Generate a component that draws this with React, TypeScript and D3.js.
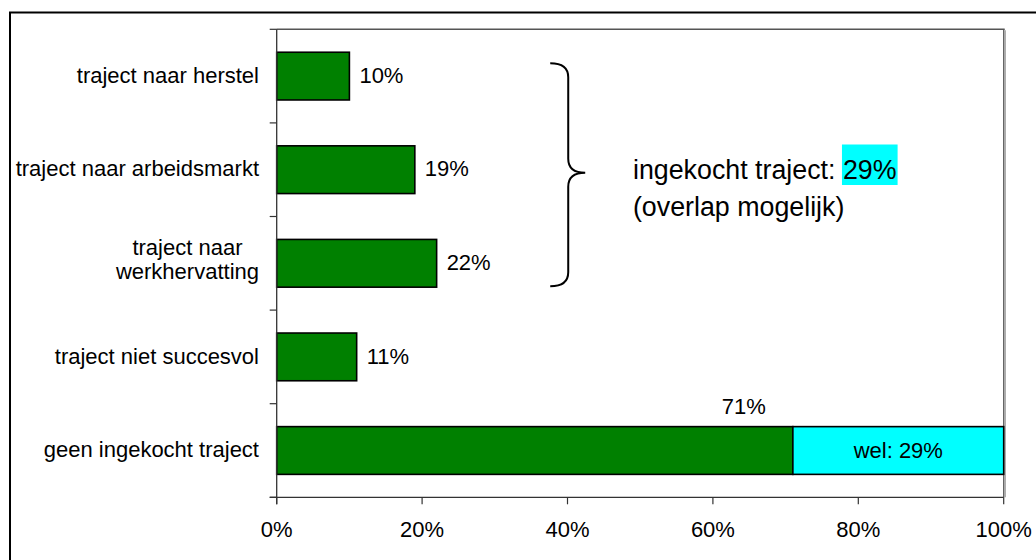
import React, { useEffect, useRef } from "react";
import * as d3 from "d3";

const categories = [
  "traject naar herstel",
  "traject naar arbeidsmarkt",
  "traject naar\nwerkhervatting",
  "traject niet succesvol",
  "geen ingekocht traject",
];
const greenValues = [10, 19, 22, 11, 71];
const cyanValues = [0, 0, 0, 0, 29];
const cyanPrefix = "wel: ";
const xTicks = [0, 20, 40, 60, 80, 100];
const annotationLine1 = "ingekocht traject: ";
const annotationHighlight = "29%";
const annotationLine2 = "(overlap mogelijk)";

const W = 1036;
const H = 560;
const FONT = "'Liberation Sans', Arial, sans-serif";
const GREEN = "#008000";
const CYAN = "#00FFFF";
const FS = 22;
const AFS = 26.8;

export default function App() {
  const ref = useRef<SVGSVGElement | null>(null);

  useEffect(() => {
    const svg = d3.select(ref.current);
    svg.selectAll("*").remove();

    const left = 276.7, right = 1003.7, top = 29.3, bottom = 497.3;
    const x = d3.scaleLinear().domain([0, 100]).range([left, right]);
    const y = d3
      .scaleBand<string>()
      .domain(categories)
      .range([top, bottom])
      .paddingInner(0.49)
      .paddingOuter(0.245);

    // outer chart border (extends past the picture)
    svg.append("rect")
      .attr("x", 10).attr("y", 12.5).attr("width", 1100).attr("height", 600)
      .attr("fill", "none").attr("stroke", "#000").attr("stroke-width", 2);

    // plot area frame (top & right), with light shadow
    svg.append("line").attr("x1", left).attr("x2", right + 1).attr("y1", top).attr("y2", top)
      .attr("stroke", "#555").attr("stroke-width", 1.5);
    svg.append("line").attr("x1", right + 1.5).attr("x2", right + 1.5).attr("y1", top + 1).attr("y2", bottom)
      .attr("stroke", "#aaa").attr("stroke-width", 1.5);
    svg.append("line").attr("x1", right).attr("x2", right).attr("y1", top).attr("y2", bottom)
      .attr("stroke", "#555").attr("stroke-width", 1.2);

    // bars
    const g = svg.append("g");
    categories.forEach((c, i) => {
      const y0 = y(c)!;
      g.append("rect")
        .attr("x", x(0)).attr("y", y0)
        .attr("width", x(greenValues[i]) - x(0)).attr("height", y.bandwidth())
        .attr("fill", GREEN).attr("stroke", "#000").attr("stroke-width", 1.6);
      if (cyanValues[i] > 0) {
        g.append("rect")
          .attr("x", x(greenValues[i])).attr("y", y0)
          .attr("width", x(greenValues[i] + cyanValues[i]) - x(greenValues[i])).attr("height", y.bandwidth())
          .attr("fill", CYAN).attr("stroke", "#000").attr("stroke-width", 1.6);
        g.append("text")
          .attr("x", (x(greenValues[i]) + x(greenValues[i] + cyanValues[i])) / 2)
          .attr("y", y0 + y.bandwidth() / 2)
          .attr("dy", "0.33em")
          .attr("text-anchor", "middle")
          .attr("font-family", FONT).attr("font-size", FS)
          .text(cyanPrefix + cyanValues[i] + "%");
        // label of stacked green part sits above the bar
        g.append("text")
          .attr("x", x(greenValues[i]) - 49)
          .attr("y", y0 - 13)
          .attr("text-anchor", "middle")
          .attr("font-family", FONT).attr("font-size", FS)
          .text(greenValues[i] + "%");
      } else {
        g.append("text")
          .attr("x", x(greenValues[i]) + 10)
          .attr("y", y0 + y.bandwidth() / 2)
          .attr("dy", "0.3em")
          .attr("font-family", FONT).attr("font-size", FS)
          .text(greenValues[i] + "%");
      }
    });

    // axes
    svg.append("line").attr("x1", left).attr("x2", left).attr("y1", top).attr("y2", bottom + 7)
      .attr("stroke", "#333").attr("stroke-width", 1.3);
    svg.append("line").attr("x1", left - 7).attr("x2", right).attr("y1", bottom).attr("y2", bottom)
      .attr("stroke", "#333").attr("stroke-width", 1.3);

    // y ticks at band boundaries
    const bounds = categories.map((c) => y(c)! - (y.step() - y.bandwidth()) / 2).concat([bottom]);
    bounds.forEach((b) => {
      svg.append("line").attr("x1", left - 7).attr("x2", left).attr("y1", b).attr("y2", b)
        .attr("stroke", "#333").attr("stroke-width", 1.2);
    });

    // x ticks
    xTicks.forEach((t) => {
      svg.append("line").attr("x1", x(t)).attr("x2", x(t)).attr("y1", bottom).attr("y2", bottom + 7)
        .attr("stroke", "#333").attr("stroke-width", 1.2);
      svg.append("text")
        .attr("x", x(t)).attr("y", 536.5)
        .attr("text-anchor", "middle")
        .attr("font-family", FONT).attr("font-size", FS)
        .text(t + "%");
    });

    // y labels
    const labelRight = left - 17.7;
    categories.forEach((c) => {
      const cy = y(c)! + y.bandwidth() / 2;
      const lines = c.split("\n");
      if (lines.length === 1) {
        svg.append("text")
          .attr("x", labelRight).attr("y", cy).attr("dy", "0.3em")
          .attr("text-anchor", "end")
          .attr("font-family", FONT).attr("font-size", FS)
          .text(c);
      } else {
        const t = svg.append("text")
          .attr("font-family", FONT).attr("font-size", FS)
          .attr("text-anchor", "middle");
        const lh = 24;
        const spans = lines.map((l, k) =>
          t.append("tspan").attr("y", cy - 8 + k * lh).text(l)
        );
        const maxW = d3.max(spans, (s) => (s.node() as SVGTSpanElement).getComputedTextLength()) || 0;
        spans.forEach((s) => s.attr("x", labelRight - maxW / 2));
      }
    });

    // brace
    const bx = x(40.1);
    const yTop = y(categories[0])! + 11;
    const yBot = y(categories[2])! + y.bandwidth() - 1;
    const yMid = y(categories[1])! + y.bandwidth() / 2 + 3;
    const bl = bx - 18, bt = bx + 17;
    const r = 14;
    const path = `M${bl},${yTop} Q${bx},${yTop} ${bx},${yTop + r} L${bx},${yMid - r} Q${bx},${yMid} ${bt},${yMid} Q${bx},${yMid} ${bx},${yMid + r} L${bx},${yBot - r} Q${bx},${yBot} ${bl},${yBot}`;
    svg.append("path").attr("d", path).attr("fill", "none").attr("stroke", "#000").attr("stroke-width", 2);

    // annotation text
    const ax = x(49.0);
    const a1 = svg.append("text")
      .attr("x", ax).attr("y", 179)
      .attr("font-family", FONT).attr("font-size", AFS)
      .style("white-space", "pre");
    a1.append("tspan").text(annotationLine1);
    const hi = a1.append("tspan").text(annotationHighlight);
    const bb = (hi.node() as SVGTSpanElement).getBBox();
    svg.insert("rect", () => a1.node() as any)
      .attr("x", bb.x - 1).attr("y", 144.5).attr("width", bb.width + 2).attr("height", 40.5)
      .attr("fill", CYAN);
    svg.append("text")
      .attr("x", ax).attr("y", 216)
      .attr("font-family", FONT).attr("font-size", AFS)
      .text(annotationLine2);
  }, []);

  return (
    <svg
      ref={ref}
      width={W}
      height={H}
      style={{ position: "absolute", left: 0, top: 0, background: "#fff" }}
    />
  );
}
